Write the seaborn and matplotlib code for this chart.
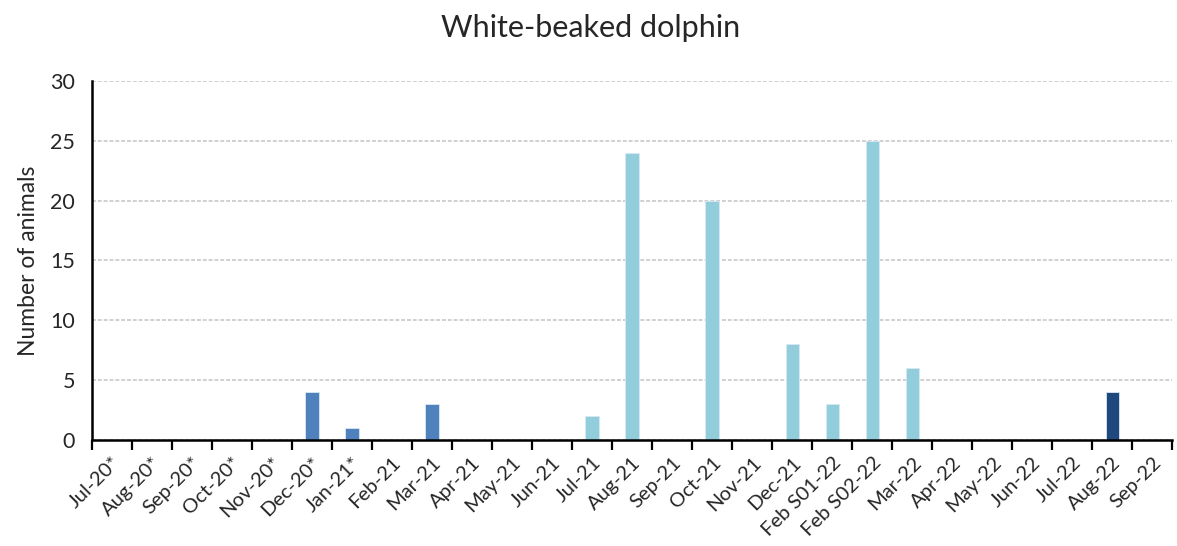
import matplotlib
matplotlib.use('Agg')
import matplotlib.pyplot as plt
import seaborn as sns
import numpy as np

months = ['Jul-20*', 'Aug-20*', 'Sep-20*', 'Oct-20*', 'Nov-20*', 'Dec-20*', 'Jan-21*',
          'Feb-21', 'Mar-21', 'Apr-21', 'May-21', 'Jun-21', 'Jul-21', 'Aug-21', 'Sep-21',
          'Oct-21', 'Nov-21', 'Dec-21', 'Feb S01-22', 'Feb S02-22', 'Mar-22', 'Apr-22',
          'May-22', 'Jun-22', 'Jul-22', 'Aug-22', 'Sep-22']
animals = [0, 0, 0, 0, 0, 4, 1, 0, 3, 0, 0, 0, 2, 24, 0, 20, 0, 8, 3, 25, 6, 0, 0, 0, 0, 4, 0]
# survey period for colouring
period = ['A'] * 12 + ['B'] * 13 + ['C', 'C']

period_colors = {'A': '#4F81BD', 'B': '#92CDDC', 'C': '#1F497D'}

sns.set_style('white')
plt.rcParams['font.family'] = ['Lato', 'DejaVu Sans']

fig, ax = plt.subplots(figsize=(11.77, 5.46), dpi=100)
fig.subplots_adjust(left=0.078, right=0.996, top=0.852, bottom=0.194)

bar_colors = [period_colors[p] for p in period]
sns.barplot(x=months, y=animals, hue=months, palette=bar_colors, legend=False,
            width=0.33, order=months, ax=ax, edgecolor='#dbe8f3', linewidth=0.6,
            saturation=1)

ax.set_ylim(0, 30)
ax.set_xlim(-0.5, len(months) - 0.5)
ax.set_yticks(range(0, 31, 5))
ax.yaxis.grid(True, color='#d0d0d0', linestyle=(0, (2, 1)), linewidth=1.4)
ax.set_axisbelow(True)

ax.set_xticks(range(len(months)))
ax.set_xticklabels(months, rotation=45, ha='right', rotation_mode='anchor', fontsize=14.5)
ax.tick_params(axis='x', which='major', length=0, pad=10)
ax.set_xticks(np.arange(-0.5, len(months), 1), minor=True)
ax.tick_params(axis='x', which='minor', bottom=True, length=7, width=1.6,
               direction='out', color='black')
ax.tick_params(axis='y', length=0, labelsize=15.5, pad=12)

for side in ['top', 'right']:
    ax.spines[side].set_visible(False)
for side in ['left', 'bottom']:
    ax.spines[side].set_color('black')
    ax.spines[side].set_linewidth(1.8)

ax.set_ylabel('Number of animals', fontsize=16.5, labelpad=8)
ax.set_xlabel('')
fig.suptitle('White-beaked dolphin', fontsize=22, x=0.502, y=0.975)

plt.savefig('out.png', dpi=100)
